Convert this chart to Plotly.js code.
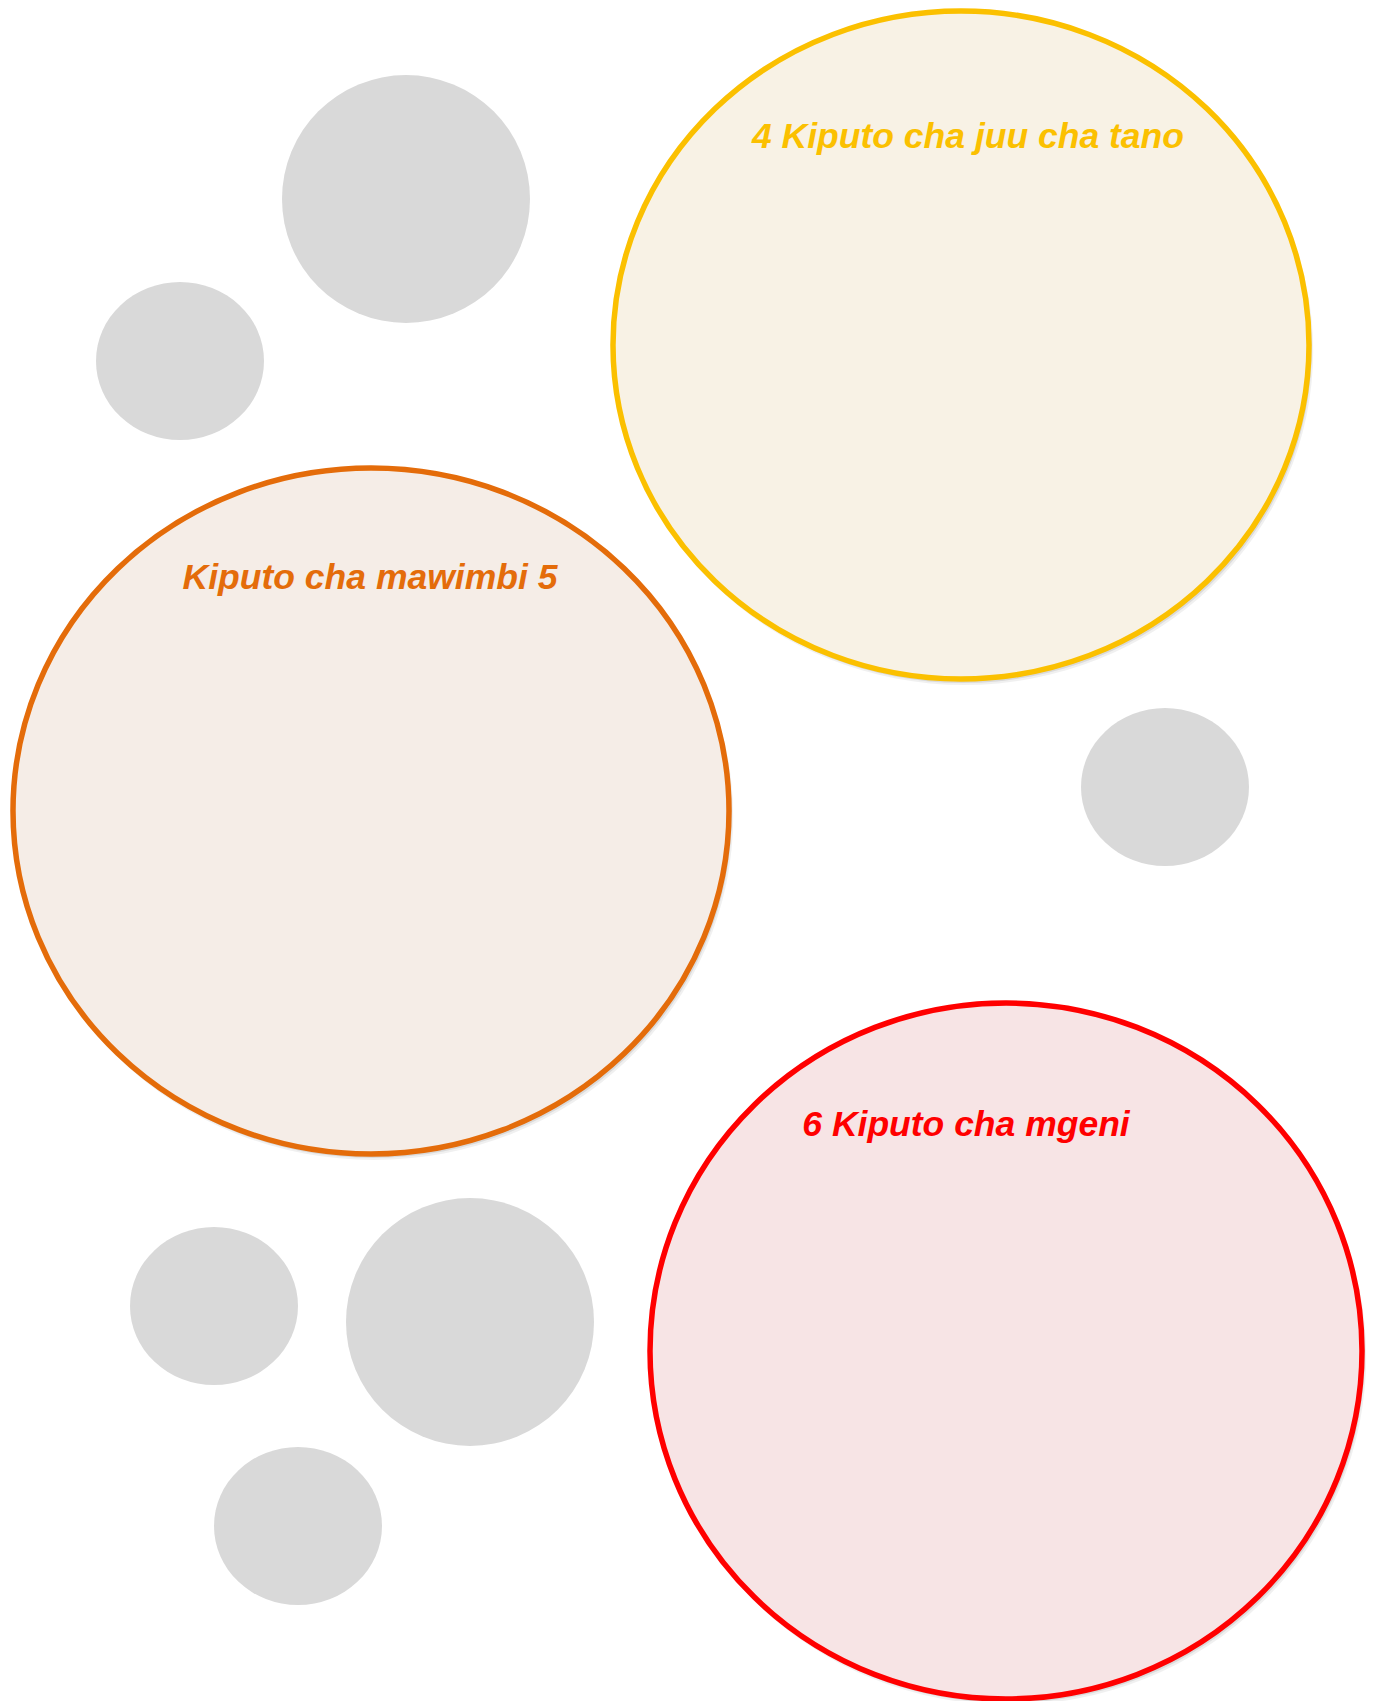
<!DOCTYPE html>
<html><head><meta charset="utf-8">
<script src="https://cdn.plot.ly/plotly-3.0.1.min.js"></script>
<style>html,body{margin:0;padding:0;background:#fff;overflow:hidden;}</style>
</head><body><div id="chart" style="width:1376px;height:1701px;"></div>
<script>
// Coloured bubbles
const bubbleLabels = ["4 Kiputo cha juu cha tano", "Kiputo cha mawimbi 5", "6 Kiputo cha mgeni"];
const bubbleCx = [961, 371, 1006];
const bubbleCy = [345, 811, 1351];
const bubbleRx = [348, 358, 356];
const bubbleRy = [334, 343, 348];
const labelX = [968, 370, 966];
const labelY = [139, 580, 1127];
// Grey decorative dots
const dotCx = [406, 180, 1165, 214, 470, 298];
const dotCy = [199, 361, 787, 1306, 1322, 1526];
const dotRx = [124, 84, 84, 84, 124, 84];
const dotRy = [124, 79, 79, 79, 124, 79];

const lineColors = ["#FBC000", "#E46C0A", "#FF0000"];
const fillColors = ["#F8F2E5", "#F5EDE7", "#F7E4E5"];
const textColors = ["#FBC000", "#E46C0A", "#FF0000"];

const shapes = [];
for (let i = 0; i < dotCx.length; i++) {
  shapes.push({type: "circle", xref: "x", yref: "y", layer: "below",
    x0: dotCx[i] - dotRx[i], x1: dotCx[i] + dotRx[i],
    y0: dotCy[i] - dotRy[i], y1: dotCy[i] + dotRy[i],
    fillcolor: "#D9D9D9", line: {width: 0}});
}
for (let i = 0; i < bubbleCx.length; i++) {
  // soft shadow
  [[6, 0.06], [4, 0.09], [2, 0.12]].forEach(([off, op]) => {
    shapes.push({type: "circle", xref: "x", yref: "y", layer: "below",
      x0: bubbleCx[i] - bubbleRx[i] + off * 0.3, x1: bubbleCx[i] + bubbleRx[i] + off * 0.7,
      y0: bubbleCy[i] - bubbleRy[i] + off, y1: bubbleCy[i] + bubbleRy[i] + off,
      fillcolor: "rgba(0,0,0," + op + ")", line: {width: 0}});
  });
  shapes.push({type: "circle", xref: "x", yref: "y", layer: "below",
    x0: bubbleCx[i] - bubbleRx[i], x1: bubbleCx[i] + bubbleRx[i],
    y0: bubbleCy[i] - bubbleRy[i], y1: bubbleCy[i] + bubbleRy[i],
    fillcolor: fillColors[i], line: {color: lineColors[i], width: 5.5}});
}

const data = [{
  type: "scatter", mode: "text",
  x: labelX, y: labelY, text: bubbleLabels,
  textposition: "middle center",
  textfont: {family: "Liberation Sans, Arial, sans-serif", size: 35.5, color: textColors,
             weight: "bold", style: "italic"},
  hoverinfo: "skip", showlegend: false
}];

const layout = {
  width: 1376, height: 1701,
  margin: {l: 0, r: 0, t: 0, b: 0, pad: 0},
  paper_bgcolor: "#FFFFFF", plot_bgcolor: "#FFFFFF",
  xaxis: {range: [0, 1376], visible: false, fixedrange: true},
  yaxis: {range: [1701, 0], visible: false, fixedrange: true},
  shapes: shapes, showlegend: false
};
Plotly.newPlot("chart", data, layout, {staticPlot: true, displayModeBar: false});
</script></body></html>
